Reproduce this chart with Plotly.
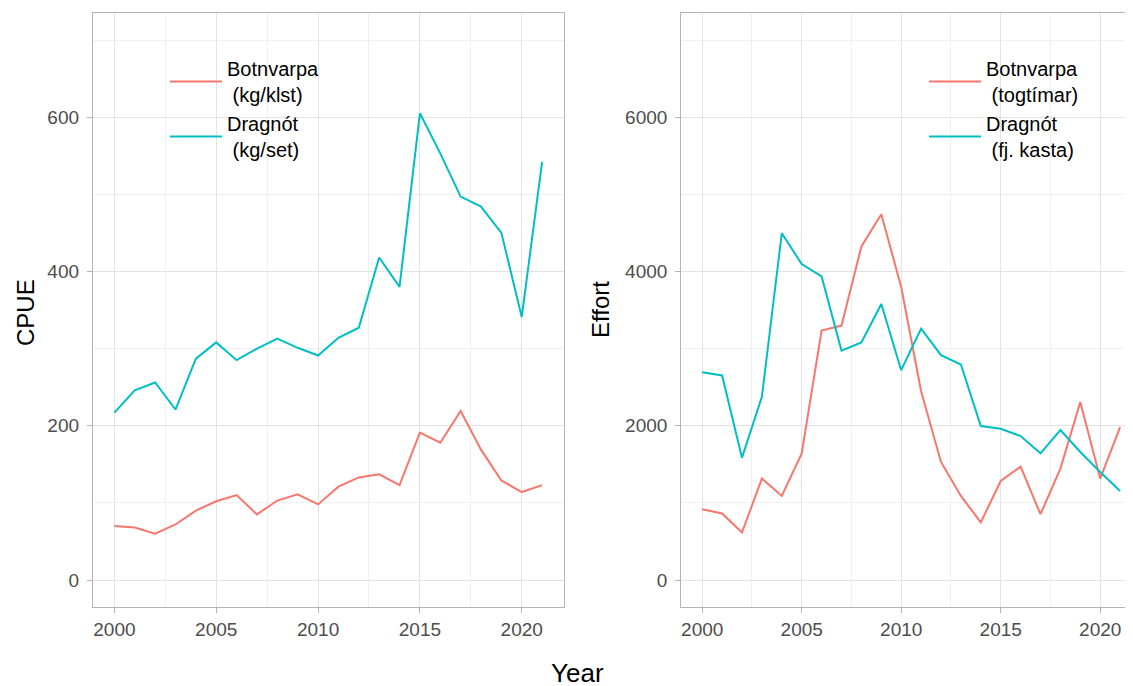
import plotly.graph_objects as go

years = list(range(2000, 2022))

cpue_botnvarpa = [70, 68, 60, 72, 90, 102, 110, 85, 103, 111, 98, 121, 133, 137, 123, 191, 178, 219, 169, 129, 114, 123]
cpue_dragnot = [217, 246, 256, 221, 287, 308, 285, 300, 313, 301, 291, 314, 327, 418, 380, 605, 553, 497, 484, 450, 341, 542]

effort_botnvarpa = [918, 862, 616, 1315, 1090, 1642, 3233, 3298, 4323, 4741, 3798, 2448, 1530, 1090, 746, 1284, 1470, 853, 1444, 2306, 1315, 1982]
effort_dragnot = [2694, 2651, 1586, 2375, 4496, 4095, 3935, 2974, 3078, 3578, 2720, 3259, 2914, 2793, 1996, 1961, 1866, 1642, 1944, 1660, 1400, 1155]

left_names = ["Botnvarpa<br> (kg/klst)", "Dragnót<br> (kg/set)"]
right_names = ["Botnvarpa<br> (togtímar)", "Dragnót<br> (fj. kasta)"]
colors = ["#F8766D", "#00BFC4"]

W, H = 1133, 686
OFF = 8  # page body margin
FONT = "Liberation Sans, Arial, sans-serif"

def px(x):
    return (x - OFF) / W

def py(y):
    return 1 - (y - OFF) / H

fig = go.Figure()

for vals, name, col in [(cpue_botnvarpa, left_names[0], colors[0]), (cpue_dragnot, left_names[1], colors[1])]:
    fig.add_trace(go.Scatter(x=years, y=vals, mode="lines", name=name,
                             line=dict(color=col, width=2), xaxis="x", yaxis="y", legend="legend"))
for vals, name, col in [(effort_botnvarpa, right_names[0], colors[0]), (effort_dragnot, right_names[1], colors[1])]:
    fig.add_trace(go.Scatter(x=years, y=vals, mode="lines", name=name,
                             line=dict(color=col, width=2), xaxis="x2", yaxis="y2", legend="legend2"))

grid_major = "#E3E3E3"
grid_minor = "#F0F0F0"
border = "#B3B3B3"
tickfont = dict(family=FONT, size=19, color="#4D4D4D")

def xax(domain, rng, anchor):
    return dict(domain=domain, range=rng, anchor=anchor, tickmode="array",
                tickvals=[2000, 2005, 2010, 2015, 2020], ticks="outside", ticklen=5,
                tickcolor=border, tickwidth=1.2, tickfont=tickfont,
                showgrid=True, gridcolor=grid_major, gridwidth=1.1,
                minor=dict(tickmode="array", tickvals=[2002.5, 2007.5, 2012.5, 2017.5],
                           showgrid=True, gridcolor=grid_minor, gridwidth=0.8),
                zeroline=False, showline=True, linecolor=border, linewidth=1.3,
                mirror=True, fixedrange=True)

def yax(domain, rng, anchor, dtick):
    return dict(domain=domain, range=rng, anchor=anchor, dtick=dtick, tick0=0,
                ticks="outside", ticklen=5, tickcolor=border, tickwidth=1.2,
                tickfont=tickfont, ticklabelstandoff=4,
                showgrid=True, gridcolor=grid_major, gridwidth=1.1,
                minor=dict(dtick=dtick / 2, tick0=0, showgrid=True, gridcolor=grid_minor, gridwidth=0.8),
                zeroline=False, showline=True, linecolor=border, linewidth=1.3,
                mirror=True, fixedrange=True)

legfont = dict(family=FONT, size=20, color="black")
ydom = [py(607), py(13)]
fig.update_layout(
    width=W, height=H,
    margin=dict(l=0, r=0, t=0, b=0),
    paper_bgcolor="white", plot_bgcolor="white",
    font=dict(family=FONT, color="black"),
    xaxis=xax([px(93), px(563.5)], [1998.95, 2022.05], "y"),
    yaxis=yax(ydom, [-35, 735], "x", 200),
    xaxis2=xax([px(681.3), 1.0], [1998.95, 2022.05], "y2"),
    yaxis2=yax(ydom, [-350, 7350], "x2", 2000),
    legend=dict(x=px(165), y=py(49), xanchor="left", yanchor="top",
                bgcolor="rgba(0,0,0,0)", font=legfont, itemwidth=52,
                tracegroupgap=0, itemclick=False),
    legend2=dict(x=px(924), y=py(49), xanchor="left", yanchor="top",
                 bgcolor="rgba(0,0,0,0)", font=legfont, itemwidth=52,
                 tracegroupgap=0, itemclick=False),
    showlegend=True,
)

# white legend boxes
fig.add_shape(type="rect", xref="paper", yref="paper", x0=px(148), x1=px(338), y0=py(174), y1=py(30),
              fillcolor="white", line=dict(width=0), layer="between")
fig.add_shape(type="rect", xref="paper", yref="paper", x0=px(907), x1=px(1098), y0=py(174), y1=py(30),
              fillcolor="white", line=dict(width=0), layer="between")

fig.add_annotation(text="CPUE", x=px(25), y=py(313), xref="paper", yref="paper", showarrow=False,
                   xanchor="center", yanchor="middle",
                   textangle=-90, font=dict(family=FONT, size=24, color="black"))
fig.add_annotation(text="Effort", x=px(600), y=py(310), xref="paper", yref="paper", showarrow=False,
                   xanchor="center", yanchor="middle",
                   textangle=-90, font=dict(family=FONT, size=24, color="black"))
fig.add_annotation(text="Year", x=px(577.7), y=py(673), xref="paper", yref="paper", showarrow=False,
                   xanchor="center", yanchor="middle",
                   font=dict(family=FONT, size=26, color="black"))

fig.write_html("out.html")
